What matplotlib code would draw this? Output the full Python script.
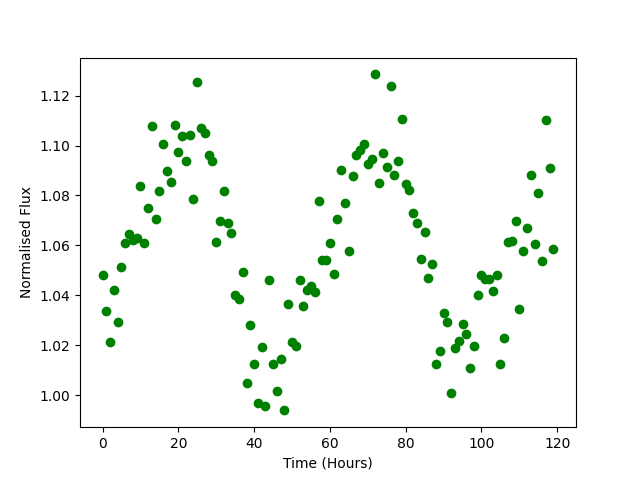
import numpy as np
import matplotlib
matplotlib.use("Agg")
import matplotlib.pyplot as plt

time_hours = list(range(120))
flux = [
    1.0483, 1.0338, 1.0214, 1.0420, 1.0294, 1.0515, 1.0611, 1.0646, 1.0623, 1.0630,
    1.0836, 1.0611, 1.0751, 1.1080, 1.0707, 1.0816, 1.1008, 1.0900, 1.0852, 1.1084,
    1.0976, 1.1040, 1.0940, 1.1044, 1.0784, 1.1253, 1.1072, 1.1052, 1.0962, 1.0940,
    1.0615, 1.0699, 1.0817, 1.0691, 1.0648, 1.0400, 1.0385, 1.0492, 1.0047, 1.0282,
    1.0123, 0.9967, 1.0191, 0.9955, 1.0460, 1.0123, 1.0015, 1.0143, 0.9939, 1.0364,
    1.0213, 1.0195, 1.0463, 1.0356, 1.0423, 1.0436, 1.0415, 1.0777, 1.0540, 1.0540,
    1.0611, 1.0484, 1.0707, 1.0901, 1.0768, 1.0579, 1.0876, 1.0964, 1.0984, 1.1008,
    1.0926, 1.0945, 1.1285, 1.0848, 1.0972, 1.0916, 1.1237, 1.0880, 1.0937, 1.1108,
    1.0845, 1.0820, 1.0731, 1.0691, 1.0547, 1.0655, 1.0471, 1.0527, 1.0126, 1.0178,
    1.0328, 1.0294, 1.0010, 1.0190, 1.0216, 1.0286, 1.0246, 1.0110, 1.0198, 1.0403,
    1.0483, 1.0467, 1.0467, 1.0416, 1.0483, 1.0123, 1.0230, 1.0615, 1.0619, 1.0699,
    1.0346, 1.0579, 1.0671, 1.0880, 1.0607, 1.0808, 1.0539, 1.1104, 1.0912, 1.0587,
]

fig, ax = plt.subplots(figsize=(6.4, 4.8), dpi=100)
ax.plot(time_hours, flux, 'o', color='green')
ax.set_xlabel('Time (Hours)')
ax.set_ylabel('Normalised Flux')
fig.savefig('out.png')
